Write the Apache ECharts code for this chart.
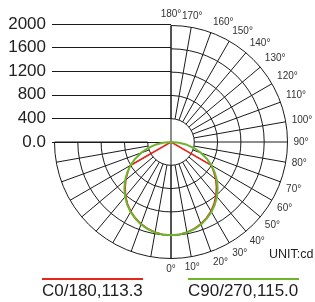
<!DOCTYPE html>
<html>
<head>
<meta charset="utf-8">
<script src="https://cdn.jsdelivr.net/npm/echarts@6/dist/echarts.min.js"></script>
<style>
html, body { margin: 0; padding: 0; background: #fff; }
#chart { width: 315px; height: 302px; }
</style>
</head>
<body>
<div id="chart"></div>
<script>
// gamma angles (from nadir), degrees
var gammaAngles = [0, 5, 10, 15, 20, 25, 30, 35, 40, 45, 50, 55, 60, 65, 70, 75, 80, 85, 90];
// luminous intensity, cd
var c0Values   = [1600, 1593, 1572, 1540, 1495, 1438, 1370, 1290, 1198, 1102, 1002, 895, 800, 0, 0, 0, 0, 0, 0];
var c180Values = [1600, 1593, 1572, 1540, 1497, 1442, 1376, 1298, 1210, 1112, 1010, 905, 815, 0, 0, 0, 0, 0, 0];
var c90Values  = [1602, 1596, 1578, 1548, 1506, 1452, 1388, 1312, 1226, 1132, 1030, 918, 802, 678, 548, 414, 278, 140, 0];
var c270Values = [1602, 1596, 1578, 1548, 1506, 1452, 1388, 1312, 1226, 1132, 1030, 918, 802, 678, 548, 414, 278, 140, 0];
var intensityTicks = [0, 400, 800, 1200, 1600, 2000];
var legendNames = ['C0/180,113.3', 'C90/270,115.0'];
var unitText = 'UNIT:cd';

var FONT = '"Liberation Sans", Arial, sans-serif';
var R = 116.5, CX = 171, CY = 142;
var imax = intensityTicks[intensityTicks.length - 1];
var istep = intensityTicks[1] - intensityTicks[0];

// left half goes 180+g, right half 180-g (0 = top, clockwise)
function curve(left, right) {
    var pts = [];
    for (var i = gammaAngles.length - 1; i >= 0; i--) pts.push([left[i], 180 + gammaAngles[i]]);
    for (var j = 1; j < gammaAngles.length; j++) pts.push([right[j], 180 - gammaAngles[j]]);
    return pts;
}

var gridLine = { color: '#1a1a1a', width: 1 };

var chart = echarts.init(document.getElementById('chart'));

var option = {
    animation: false,
    grid: { left: 52, top: 24, width: 119, height: 118 },
    xAxis: { type: 'value', show: false, min: 0, max: 1 },
    yAxis: {
        type: 'value', min: 0, max: imax, interval: istep,
        axisLine: { show: false }, axisTick: { show: false },
        axisLabel: {
            margin: 6, color: '#222', fontSize: 17, fontFamily: FONT,
            formatter: function (v) { return v === 0 ? '0.0' : String(v); }
        },
        splitLine: { lineStyle: gridLine }
    },
    polar: [
        { center: [CX, CY], radius: [R * istep / imax, R] },
        { center: [CX, CY], radius: [0, R] }
    ],
    angleAxis: [
        {
            polarIndex: 0, type: 'value', startAngle: 90, endAngle: -180, clockwise: true,
            min: 0, max: 270, interval: 10,
            axisLine: { show: false }, axisTick: { show: false },
            axisLabel: {
                margin: 6, color: '#333', fontSize: 10, fontFamily: FONT,
                formatter: function (v) { return v <= 180 ? (180 - v) + '°' : ''; }
            },
            splitLine: { lineStyle: gridLine }
        },
        {
            polarIndex: 1, type: 'value', startAngle: 90, clockwise: true,
            min: 0, max: 360, interval: 180,
            axisLine: { show: false }, axisTick: { show: false }, axisLabel: { show: false },
            splitLine: { show: true, lineStyle: gridLine }
        }
    ],
    radiusAxis: [
        {
            polarIndex: 0, type: 'value', min: istep, max: imax, interval: istep,
            axisLine: { show: false }, axisTick: { show: false }, axisLabel: { show: false },
            splitLine: { show: true, lineStyle: gridLine }
        },
        {
            polarIndex: 1, type: 'value', min: 0, max: imax,
            axisLine: { show: false }, axisTick: { show: false }, axisLabel: { show: false },
            splitLine: { show: false }
        }
    ],
    series: [
        {
            name: legendNames[0], type: 'line', coordinateSystem: 'polar', polarIndex: 1,
            showSymbol: false, symbol: 'none', z: 3,
            lineStyle: { color: '#e8261c', width: 1.5 },
            data: curve(c180Values, c0Values)
        },
        {
            name: legendNames[1], type: 'line', coordinateSystem: 'polar', polarIndex: 1,
            showSymbol: false, symbol: 'none', z: 4,
            lineStyle: { color: '#6cb52d', width: 2 },
            data: curve(c270Values, c90Values)
        }
    ],
    graphic: [
        { type: 'text', left: 269, top: 248, style: { text: unitText, fontSize: 12.5, fontFamily: FONT, fill: '#222' } },
        { type: 'line', shape: { x1: 42, y1: 279, x2: 143, y2: 279 }, style: { stroke: '#e8261c', lineWidth: 2 } },
        { type: 'line', shape: { x1: 188, y1: 279, x2: 299, y2: 279 }, style: { stroke: '#6cb52d', lineWidth: 2 } },
        { type: 'text', x: 42, y: 291, style: { text: legendNames[0], fontSize: 17, fontFamily: FONT, fill: '#222', verticalAlign: 'middle' } },
        { type: 'text', x: 188, y: 291, style: { text: legendNames[1], fontSize: 17, fontFamily: FONT, fill: '#222', verticalAlign: 'middle' } }
    ]
};

chart.setOption(option);
</script>
</body>
</html>
